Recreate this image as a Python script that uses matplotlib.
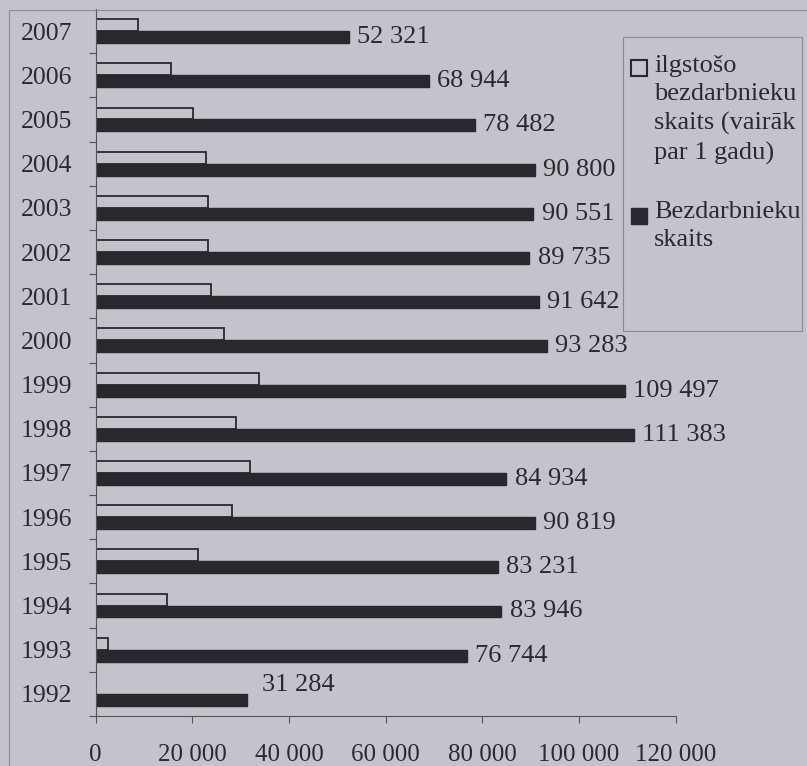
import matplotlib
matplotlib.use("Agg")
import matplotlib.pyplot as plt
from matplotlib.patches import Rectangle
from matplotlib.ticker import FuncFormatter, FixedLocator

years = ["1992", "1993", "1994", "1995", "1996", "1997", "1998", "1999",
         "2000", "2001", "2002", "2003", "2004", "2005", "2006", "2007"]
unemployed = [31284, 76744, 83946, 83231, 90819, 84934, 111383, 109497,
              93283, 91642, 89735, 90551, 90800, 78482, 68944, 52321]
long_term = [0, 2600, 14700, 21100, 28100, 32000, 29000, 33700,
             26600, 23900, 23300, 23200, 22800, 20100, 15500, 8800]
x_ticks = [0, 20000, 40000, 60000, 80000, 100000, 120000]
legend_labels = ["ilgstošo\nbezdarbnieku\nskaits (vairāk\npar 1 gadu)",
                 "Bezdarbnieku\nskaits"]

BG = "#c4c3cc"
DARK = "#29292d"
TXT = "#2b2b2e"
FONT = "Liberation Serif"
plt.rcParams["font.family"] = [FONT, "DejaVu Serif"]

W, H = 807, 766
fig = plt.figure(figsize=(W / 100, H / 100), dpi=100, facecolor=BG)

def fx(px):
    return px / W

def fy(py):
    return 1 - py / H

ax = fig.add_axes([fx(95.7), fy(716), fx(675.7) - fx(95.7), fy(9) - fy(716)])
ax.set_facecolor(BG)

n = len(years)
pos = list(range(n))
bh = 0.27
ax.barh([p + bh / 2 for p in pos], long_term, height=bh, color=BG,
        edgecolor=DARK, linewidth=1.3)
ax.barh([p - bh / 2 for p in pos], unemployed, height=bh, color=DARK,
        edgecolor=DARK, linewidth=1.0)

fmt = lambda v: f"{int(v):,}".replace(",", " ")
for p, v in zip(pos, unemployed):
    if p == 0:
        ax.annotate(fmt(v), (v, p - bh / 2), xytext=(11, 11),
                    textcoords="offset points", va="center", ha="left",
                    fontsize=19, color=TXT)
    else:
        ax.annotate(fmt(v), (v, p - bh / 2), xytext=(6, 0),
                    textcoords="offset points", va="center", ha="left",
                    fontsize=19, color=TXT)

ax.set_xlim(0, 120000)
ax.set_ylim(-0.5, n - 0.5)
ax.set_xticks(x_ticks)
ax.xaxis.set_major_formatter(FuncFormatter(lambda v, _: fmt(v)))
ax.set_yticks(pos)
ax.set_yticklabels(years)
ax.yaxis.set_minor_locator(FixedLocator([p + 0.5 for p in pos[:-1]] + [-0.5]))
ax.tick_params(axis="y", which="major", length=0, pad=17, labelsize=18.5,
               labelcolor=TXT)
ax.tick_params(axis="y", which="minor", length=5, width=0.8, color="#555")
ax.tick_params(axis="x", which="major", length=5, width=0.8, color="#555",
               pad=15, labelsize=18, labelcolor=TXT)
for s in ["top", "right"]:
    ax.spines[s].set_visible(False)
for s in ["left", "bottom"]:
    ax.spines[s].set_color("#555")
    ax.spines[s].set_linewidth(0.8)

# outer frame
fig.add_artist(Rectangle((fx(9), fy(H + 20)), fx(W + 20) - fx(9), fy(10) - fy(H + 20),
                         transform=fig.transFigure, fill=False,
                         edgecolor="#8a8a92", linewidth=0.8))

# legend box
fig.add_artist(Rectangle((fx(623), fy(331)), fx(802) - fx(623), fy(37) - fy(331),
                         transform=fig.transFigure, facecolor=BG,
                         edgecolor="#8a8a92", linewidth=0.8))
fig.add_artist(Rectangle((fx(630.5), fy(76)), fx(16), fy(0) - fy(16),
                         transform=fig.transFigure, facecolor=BG,
                         edgecolor=DARK, linewidth=1.5))
fig.add_artist(Rectangle((fx(630.5), fy(224)), fx(16), fy(0) - fy(16),
                         transform=fig.transFigure, facecolor=DARK,
                         edgecolor=DARK, linewidth=1.0))
fig.text(fx(654), fy(55), legend_labels[0], ha="left", va="top",
         fontsize=19, color=TXT, linespacing=1.38)
fig.text(fx(654), fy(201), legend_labels[1], ha="left", va="top",
         fontsize=19, color=TXT, linespacing=1.38)

fig.savefig("out.png", dpi=100, facecolor=BG)
